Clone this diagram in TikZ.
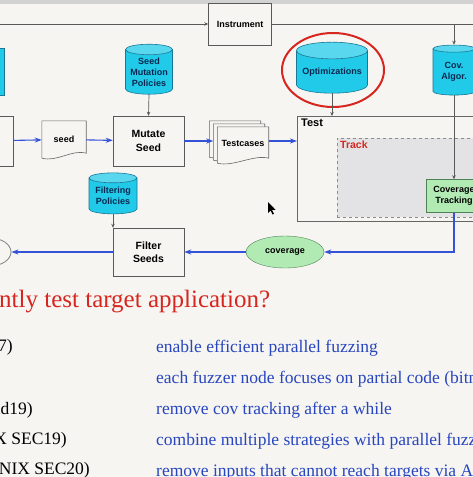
\documentclass[tikz,border=0pt]{standalone}
\usepackage{fontspec}
\setmainfont{Liberation Serif}
\setsansfont{Liberation Sans}
\usetikzlibrary{shapes.geometric,arrows.meta,positioning}

\definecolor{bgpaper}{RGB}{246,245,241}
\definecolor{cylcyan}{RGB}{32,202,232}
\definecolor{cylline}{RGB}{25,120,150}
\definecolor{cylink}{RGB}{12,40,80}
\definecolor{flowblue}{RGB}{52,82,215}
\definecolor{greenfill}{RGB}{178,234,180}
\definecolor{greenline}{RGB}{80,130,90}
\definecolor{trackgray}{RGB}{227,227,229}
\definecolor{slidered}{RGB}{215,38,32}
\definecolor{noteblue}{RGB}{40,70,190}

\newcommand{\boxfont}{\sffamily\bfseries\fontsize{9}{11}\selectfont}
\newcommand{\bigboxfont}{\sffamily\bfseries\fontsize{10.5}{13.5}\selectfont}

\tikzset{
  box/.style={draw=black!65, fill=bgpaper, font=\boxfont, align=center, inner sep=0pt},
  db/.style={cylinder, shape border rotate=90, aspect=0.28, draw=cylline, line width=0.6pt,
    cylinder uses custom fill, cylinder body fill=cylcyan, cylinder end fill=cylcyan!75!white,
    font=\boxfont, text=cylink, align=center, inner sep=0pt},
  sheet/.style={draw=black!60, fill=bgpaper, line width=0.6pt},
  flow/.style={-{Stealth[length=7pt,width=5pt]}, flowblue, line width=1.1pt},
  ctrl/.style={-{Stealth[length=4pt,width=3.5pt]}, black!65, line width=0.7pt},
  note/.style={anchor=base west, text=noteblue, font=\fontsize{17.5}{20}\selectfont, inner sep=0pt},
  paper/.style={anchor=base east, font=\fontsize{17.5}{20}\selectfont, inner sep=0pt},
}

% wavy bottom of a document sheet round node #1
\newcommand{\docpath}[1]{(#1.north west) -- (#1.north east) -- ([yshift=5pt]#1.south east)
  .. controls ([xshift=-15pt,yshift=9pt]#1.south east) and ([xshift=16pt,yshift=-4pt]#1.south west)
  .. (#1.south west) -- cycle}

\begin{document}
\begin{tikzpicture}[x=1pt,y=-1pt]
  \useasboundingbox (0,0) rectangle (473,477);
  \fill[bgpaper] (0,0) rectangle (473,477);
  \clip (0,0) rectangle (473,477);
  \fill[gray!35] (0,0) rectangle (473,4);

  % top row
  \node[box, minimum width=63, minimum height=42] (instr) at (240,24) {Instrument};
  \node[db, minimum width=44, minimum height=47] (leftdb) at (-18,72) {};
  \node[db, minimum width=47, minimum height=50] (mpol) at (149,72) {Seed\\Mutation\\Policies};
  \node[db, minimum width=71, minimum height=51] (opt) at (332,72) {Optimizations};
  \node[db, minimum width=42, minimum height=50] (cov) at (454,72) {Cov.\\Algor.};
  \draw[slidered, line width=2pt] (333,70) ellipse [x radius=51, y radius=37];

  % middle row
  \node[box, minimum width=66, minimum height=50] (leftbox) at (-20,141) {};
  \node[inner sep=0pt, minimum width=44, minimum height=37, font=\boxfont] (seed) at (64,139.5) {};
  \draw[sheet] \docpath{seed};
  \node[font=\boxfont] at (64,139) {seed};
  \node[box, font=\bigboxfont, minimum width=71, minimum height=50] (mutate) at (148.5,141) {Mutate\\Seed};
  \node[inner sep=0pt, minimum width=51, minimum height=36] (tc3) at (235,139) {};
  \node[inner sep=0pt, minimum width=51, minimum height=36] (tc2) at (239,142) {};
  \node[inner sep=0pt, minimum width=51, minimum height=36] (tc1) at (243,145) {};
  \draw[sheet] \docpath{tc3};
  \draw[sheet] \docpath{tc2};
  \draw[sheet] \docpath{tc1};
  \node[font=\boxfont] (tcases) at (243,143) {Testcases};

  \node[draw=black!60, line width=0.7pt, fill=bgpaper, anchor=north west,
    minimum width=200, minimum height=105] (test) at (297,116) {};
  \node[anchor=north west, inner sep=0pt, font=\sffamily\bfseries\fontsize{11}{12}\selectfont]
    at ([shift={(4pt,-3pt)}]test.north west) {Test};
  \node[draw=black!45, dashed, fill=trackgray, anchor=north west,
    minimum width=150, minimum height=79] (track) at (337,138) {};
  \node[anchor=north west, inner sep=0pt, text=slidered, font=\sffamily\bfseries\fontsize{10.5}{12}\selectfont]
    at ([shift={(3pt,-3pt)}]track.north west) {Track};
  \node[box, fill=greenfill, draw=greenline, minimum width=56, minimum height=33] (covtrack) at (454,196) {Coverage\\Tracking};

  % bottom row
  \node[db, minimum width=48, minimum height=41] (fpol) at (113,196) {Filtering\\Policies};
  \node[box, font=\bigboxfont, minimum width=71, minimum height=48] (filter) at (148.5,252) {Filter\\Seeds};
  \node[ellipse, draw=greenline, fill=greenfill, font=\boxfont, minimum width=78, minimum height=32,
    inner sep=0pt] (coverage) at (285,252) {coverage};
  \node[ellipse, draw=black!50, line width=0.8pt, minimum width=42, minimum height=28] (leftell) at (-10,252) {};

  % control lines
  \coordinate (lin) at (0,24);
  \coordinate (rout) at (480,24);
  \draw[ctrl] (lin) -- (instr);
  \draw[black!65, line width=0.7pt] (instr) -- (rout);
  \draw[ctrl] (instr.east -| cov.north) -- (cov.north);
  \draw[ctrl] (mpol.south) -- (mutate.north);
  \draw[ctrl] (opt.south) -- (opt.south |- test.north);
  \draw[ctrl] (cov.south) -- (covtrack.north);
  \draw[ctrl] (fpol.south) -- (fpol.south |- filter.north);

  % data flow
  \draw[flow] (leftbox) -- (seed);
  \draw[flow] (seed) -- (mutate);
  \draw[flow] (mutate) -- (tc2.west |- mutate.east);
  \draw[flow] (tc1.east |- mutate.east) -- (test.west |- mutate.east);
  \draw[flow] (covtrack.south) |- (coverage.east);
  \draw[flow] (coverage) -- (filter);
  \draw[flow] (filter) -- (leftell);

  % mouse pointer
  \fill[black] (268,202) -- (268,213) -- (270.5,210.5) -- (272.5,214.5) -- (274,213.8)
    -- (272,209.8) -- (275.5,209.8) -- cycle;

  % slide text
  \node[anchor=base west, inner sep=0pt, text=slidered, font=\fontsize{25}{28}\selectfont]
    (title) at (-1,307) {ntly test target application?};
  \node[paper] (p1) at (13,351) {7)};
  \node[paper] (p3) at (33,414) {nd19)};
  \node[paper] (p4) at (67,444) {X SEC19)};
  \node[paper] (p5) at (90,474) {ENIX SEC20)};
  \node[note] (n1) at (156,352) {enable efficient parallel fuzzing};
  \node[note] (n2) at (156,383) {each fuzzer node focuses on partial code (bitmap)};
  \node[note] (n3) at (156,414) {remove cov tracking after a while};
  \node[note] (n4) at (156,445) {combine multiple strategies with parallel fuzzing};
  \node[note] (n5) at (156,476) {remove inputs that cannot reach targets via AFL};
\end{tikzpicture}
\end{document}
